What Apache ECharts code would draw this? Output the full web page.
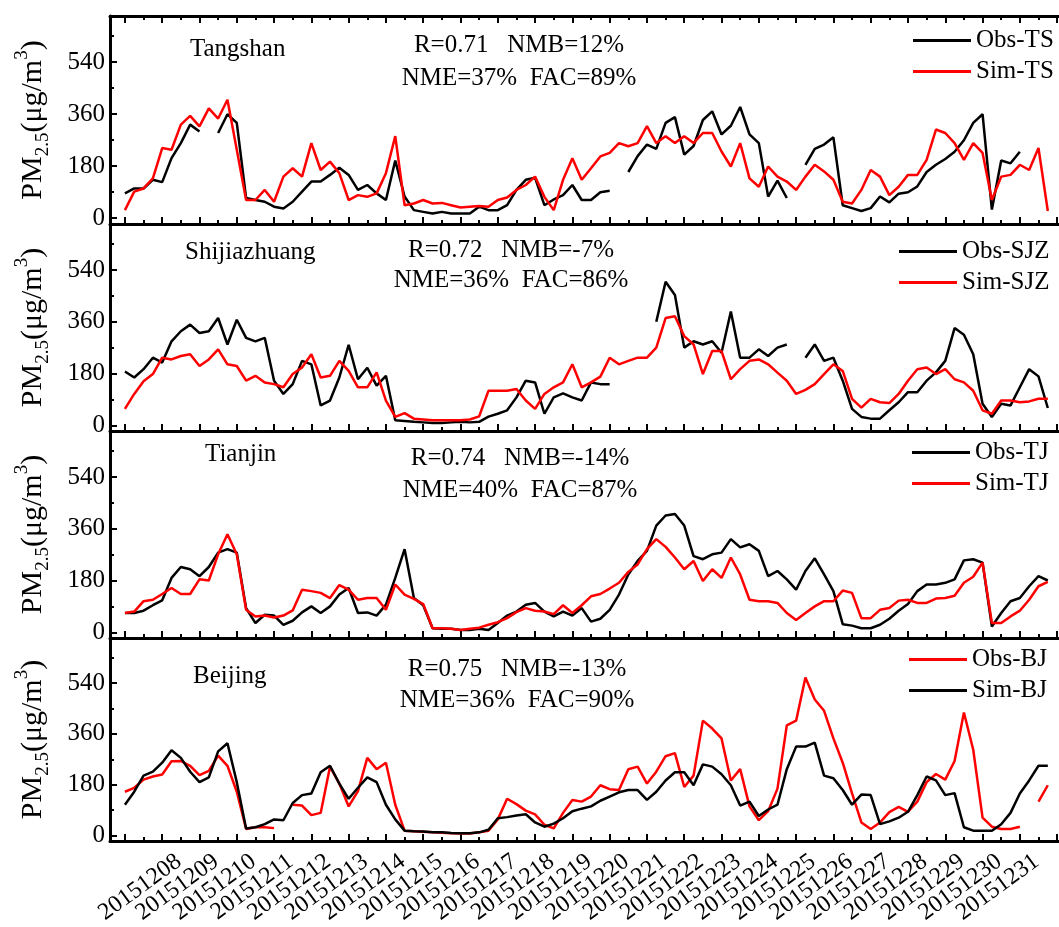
<!DOCTYPE html>
<html><head><meta charset="utf-8">
<script src="https://cdn.jsdelivr.net/npm/echarts@6/dist/echarts.min.js"></script>
<style>html,body{margin:0;padding:0;background:#fff}#c{width:1059px;height:927px}</style>
</head><body><div id="c"></div>
<script>
// sampling step of the series (days since the first major tick)
const STEP = 0.25;
const dateLabels = ['20151208','20151209','20151210','20151211','20151212','20151213','20151214','20151215',
  '20151216','20151217','20151218','20151219','20151220','20151221','20151222','20151223','20151224',
  '20151225','20151226','20151227','20151228','20151229','20151230','20151231'];
const yTicks = [0, 180, 360, 540];
const yMinorTicks = [90, 270, 450, 630];

const tsObs = [86,103,103,133,125,208,260,324,300,null, 295,360,330,70,63,57,40,34,57,92,
  127,127,150,175,150,98,115,86,63,200, 75,28,22,16,22,16,16,16,40,28,
  28,45,98,133,140,45,65,80,115,63, 63,90,95,null,160,215,255,240,330,350,
  220,250,340,370,290,320,385,290,260,75, 130,70,null,185,240,255,280,45,35,25,
  35,75,55,85,90,110,160,185,205,230, 270,330,360,30,200,190,230,null,240,null];
const tsSim = [28,92,103,138,243,237,324,354,318,380, 345,410,237,63,63,98,57,144,173,144,
  260,167,196,156,63,80,74,86,156,284, 45,51,63,51,53,45,37,40,42,40,
  63,72,98,115,144,74,28,133,208,133, 173,214,226,260,249,260,319,260,284,260,
  284,260,295,295,231,179,260,138,109,179, 144,127,98,144,185,162,133,57,51,98,
  167,144,80,109,150,150,202,307,295,260, 202,260,226,63,144,150,185,167,243,25];

const sjzObs = [187,166,195,235,218,292,327,350,321,327, 373,281,367,304,292,304,155,109,143,224,
  212,69,86,166,280,160,200,138,172,17, 15,12,10,8,8,10,12,10,12,30,
  40,52,97,155,149,40,97,111,97,86, 149,143,143,null,200,null,null,360,499,453,
  270,292,281,292,252,396,235,235,264,241, 270,281,null,235,281,224,235,155,57,29,
  23,23,52,80,115,115,155,184,224,338, 315,247,75,29,75,69,132,195,170,60];
const sjzSim = [57,109,153,178,235,229,241,247,206,229, 264,212,206,155,172,149,143,132,178,201,
  247,166,172,224,189,132,132,184,86,29, 42,23,20,17,17,17,17,20,31,120,
  120,120,126,86,57,109,132,149,212,132, 149,169,235,212,224,235,235,270,373,379,
  310,281,178,258,258,160,195,224,229,212, 183,155,109,123,143,178,212,189,92,61,
  92,80,77,109,155,195,201,178,195,160, 149,120,52,40,86,86,80,83,92,92];

const tjObs = [67,67,75,94,111,189,227,219,195,227, 277,289,277,84,32,61,58,26,40,69,
  90,67,90,131,154,67,69,58,96,189, 289,119,94,14,12,12,8,8,12,8,
  32,58,72,96,102,72,55,72,58,84, 37,47,78,131,201,248,283,371,406,411,
  371,265,254,271,277,324,295,306,283,195, 213,184,148,213,257,201,143,28,23,14,
  14,26,47,75,98,143,166,166,172,184, 250,254,242,20,67,108,119,160,195,180];
const tjSim = [67,72,108,113,133,154,133,133,184,180, 271,341,271,78,55,58,51,58,76,148,
  143,137,119,164,148,113,119,119,78,166, 131,116,98,14,14,12,8,12,16,26,
  35,49,70,84,75,72,63,94,67,94, 125,133,152,172,210,236,289,324,297,260,
  219,248,178,219,189,260,201,113,108,108, 102,67,43,67,90,108,108,145,137,49,
  49,78,84,110,113,102,102,117,119,127, 172,193,242,32,32,55,75,113,160,175];

const bjObs = [155,169,198,209,216,263,264,247,214,229, 283,247,155,23,29,29,26,null,109,106,
  72,80,244,184,103,157,275,235,258,109, 17,15,13,11,10,8,7,7,11,17,
  57,130,111,88,75,38,25,80,126,120, 138,178,164,161,235,244,184,226,281,292,
  172,212,407,379,344,195,235,103,54,86, 166,390,407,560,482,442,344,258,149,46,
  23,46,83,101,84,120,189,218,198,264, 436,304,63,31,23,23,31,null,120,178];
const bjSim = [109,155,212,226,258,302,275,226,189,206, 298,327,189,25,29,40,57,54,115,143,
  149,224,247,184,130,169,206,189,109,57, 17,15,14,11,11,9,8,8,11,20,
  61,65,71,75,46,31,42,61,86,95, 103,123,138,153,161,161,126,155,195,224,
  224,178,252,244,217,178,106,120,69,92, 109,235,315,315,329,212,203,161,109,145,
  143,40,50,63,84,143,209,195,143,150, 29,17,17,17,40,80,149,195,247,247];

const cityNames = ['Tangshan', 'Shijiazhuang', 'Tianjin', 'Beijing'];
const statLine1 = ['R=0.71   NMB=12%', 'R=0.72   NMB=-7%', 'R=0.74   NMB=-14%', 'R=0.75   NMB=-13%'];
const statLine2 = ['NME=37%  FAC=89%', 'NME=36%  FAC=86%', 'NME=40%  FAC=87%', 'NME=36%  FAC=90%'];
const seriesNames = [['Obs-TS','Sim-TS'], ['Obs-SJZ','Sim-SJZ'], ['Obs-TJ','Sim-TJ'], ['Obs-BJ','Sim-BJ']];
const seriesData = [[tsObs, tsSim], [sjzObs, sjzSim], [tjObs, tjSim], [bjObs, bjSim]];
const seriesColors = [['#000000','#ff0000'], ['#000000','#ff0000'], ['#000000','#ff0000'], ['#ff0000','#000000']];

// ---- layout / style ----
const FONT = "'Liberation Serif', 'Times New Roman', serif";
const X_MIN = -0.4, X_MAX = 25.05;
const LABEL_SHIFT = 1.45;
const gridTops = [16, 224, 431, 638];
const gridHeights = [208, 207, 207, 207];
const cityTop = [37, 240, 442, 664];
const cityLeft = [190, 185, 205, 193];
const statCenter = [519, 511, 520, 517];
const stat1Top = [33, 238, 446, 657];
const stat2Top = [66, 268, 478, 688];
const legendLeft = [913, 899, 912, 909];
const legendTop = [28, 239, 440, 647];

const majorX = []; for (let d = 0; d <= 25; d++) majorX.push(d);
const minorX = []; for (let d = 0; d < 25; d++) minorX.push(d + 0.5);
// labels split over two axes (even / odd days) so none are hidden by overlap checks
const labelValsEven = [], labelValsOdd = [];
dateLabels.forEach((_, i) => (i % 2 === 0 ? labelValsEven : labelValsOdd).push(i + LABEL_SHIFT));

const grids = gridTops.map((t, g) => ({ left: 110, right: 0, top: t, height: gridHeights[g] }));

function xAxisDef(g, pos, minor, labelVals) {
  return {
    type: 'value', gridIndex: g, min: X_MIN, max: X_MAX, position: pos,
    axisLine: { show: !minor, onZero: false, lineStyle: { color: '#000', width: 3 } },
    axisTick: { show: true, inside: true, length: minor ? 4 : 7, customValues: minor ? minorX : majorX,
      lineStyle: { color: '#000', width: 2 } },
    axisLabel: labelVals ? {
      show: true, customValues: labelVals, rotate: 36, margin: 18, fontSize: 24, color: '#000', fontFamily: FONT,
      showMinLabel: true, showMaxLabel: true, hideOverlap: false,
      formatter: v => dateLabels[Math.round(v - LABEL_SHIFT)] || ''
    } : { show: false },
    splitLine: { show: false }
  };
}
const xAxes = [];
for (let g = 0; g < 4; g++) {
  xAxes.push(xAxisDef(g, 'bottom', false, g === 3 ? labelValsEven : null));
  xAxes.push(xAxisDef(g, 'bottom', true, g === 3 ? labelValsOdd : null));
}
xAxes.push(xAxisDef(0, 'top', false, null));
xAxes.push(xAxisDef(0, 'top', true, null));

const yName = '{m|PM}{s|2.5}{m|(μg/m}{u|3}{m|)}';
const yAxes = [];
for (let g = 0; g < 4; g++) {
  yAxes.push({
    type: 'value', gridIndex: g, min: -20, max: 700, position: 'left',
    axisLine: { show: true, onZero: false, lineStyle: { color: '#000', width: 3 } },
    axisTick: { show: true, inside: true, length: 7, customValues: yTicks, lineStyle: { color: '#000', width: 2 } },
    axisLabel: { show: true, customValues: yTicks, fontSize: 25, margin: 5, color: '#000', fontFamily: FONT,
      showMinLabel: true, showMaxLabel: true },
    splitLine: { show: false },
    name: yName, nameLocation: 'middle', nameGap: 57, nameRotate: 90,
    nameTextStyle: {
      color: '#000', fontFamily: FONT,
      rich: {
        m: { fontSize: 30, fontFamily: FONT, color: '#000', lineHeight: 40 },
        s: { fontSize: 19, fontFamily: FONT, color: '#000', lineHeight: 40, verticalAlign: 'bottom' },
        u: { fontSize: 19, fontFamily: FONT, color: '#000', lineHeight: 40, verticalAlign: 'top' }
      }
    }
  });
  yAxes.push({
    type: 'value', gridIndex: g, min: -20, max: 700, position: 'left',
    axisLine: { show: false, onZero: false },
    axisTick: { show: true, inside: true, length: 4, customValues: yMinorTicks, lineStyle: { color: '#000', width: 2 } },
    axisLabel: { show: false }, splitLine: { show: false }
  });
}

const toPairs = arr => arr.map((v, i) => [i * STEP, v == null ? '-' : v]);
const series = [];
for (let g = 0; g < 4; g++) {
  for (let k = 0; k < 2; k++) {
    series.push({
      type: 'line', name: seriesNames[g][k], xAxisIndex: 2 * g, yAxisIndex: 2 * g,
      data: toPairs(seriesData[g][k]), symbol: 'none', showSymbol: false, connectNulls: false,
      lineStyle: { color: seriesColors[g][k], width: 2.5 }, itemStyle: { color: seriesColors[g][k] },
      animation: false
    });
  }
}

const titleStyle = { fontSize: 25, fontWeight: 'normal', fontFamily: FONT, color: '#000' };
const titles = [];
for (let g = 0; g < 4; g++) {
  titles.push({ text: cityNames[g], left: cityLeft[g], top: cityTop[g], padding: 0, textStyle: titleStyle });
  titles.push({ text: statLine1[g], left: statCenter[g], top: stat1Top[g], textAlign: 'center', padding: 0, textStyle: titleStyle });
  titles.push({ text: statLine2[g], left: statCenter[g], top: stat2Top[g], textAlign: 'center', padding: 0, textStyle: titleStyle });
}

const legends = seriesNames.map((names, g) => ({
  orient: 'vertical', left: legendLeft[g], top: legendTop[g], padding: 0,
  icon: 'rect', itemWidth: 58, itemHeight: 3, itemGap: 6, data: names, selectedMode: false,
  textStyle: { fontSize: 25, fontFamily: FONT, color: '#000' }
}));

const chart = echarts.init(document.getElementById('c'), null, { renderer: 'canvas' });
chart.setOption({
  backgroundColor: '#fff', animation: false,
  title: titles, legend: legends, grid: grids, xAxis: xAxes, yAxis: yAxes, series: series
});
</script></body></html>
